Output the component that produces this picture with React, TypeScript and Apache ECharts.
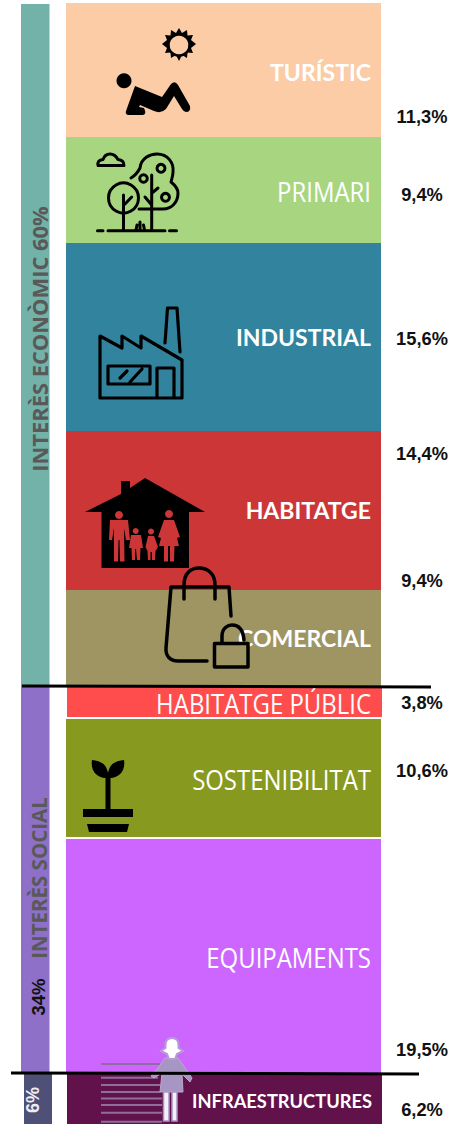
import React, { useEffect, useRef } from "react";
import * as echarts from "echarts";

const PAGE_W = 466;
const PAGE_H = 1124;

// Sectors, top to bottom
const sectorNames = ["TURÍSTIC", "PRIMARI", "INDUSTRIAL", "HABITATGE", "COMERCIAL", "HABITATGE PÚBLIC", "SOSTENIBILITAT", "EQUIPAMENTS", "INFRAESTRUCTURES"];
const sectorShares = [11.3, 9.4, 15.6, 14.4, 9.4, 3.8, 10.6, 19.5, 6.2];
// The picture does not draw the blocks strictly to scale: drawn lengths read from it
const sectorLengths = [134, 106, 188, 159, 96, 30, 118, 234, 50];
const sectorGapsBefore = [3, 0, 0, 0, 0, 1, 2, 2, 1];
const sectorColors = ["#FBCCA5", "#A8D580", "#32839E", "#CC3636", "#9E9562", "#FF4D4D", "#87991F", "#CC66FF", "#61124A"];
const sectorBold = [true, false, true, true, true, false, false, false, true];
const sectorShifted = [false, false, false, false, false, true, false, false, true];
const boldLabelNudge = [2, 0, 0, -1, 0, 0, 0, 0, 2];
const shareLabelY = [116, 194, 338, 453, 580, 702, 770, 1049, 1109];

// Interest groups, left-hand column
const groupNames = ["INTERÈS ECONÒMIC 60%", "INTERÈS SOCIAL", "6%"];
const groupLengths = [681, 387, 50];
const groupGapsBefore = [4, 0, 2];
const groupColors = ["#73B2A8", "#8E70C8", "#4F5077"];
const socialShare = "34%";

const ICONS: Record<string, string> = {
  sunRays:
    "M179,28 L182,33 L187,30 L187.5,35.5 L193,35 L191,40 L196,44 L191,48 L193,53 L187.5,52.5 L187,58 L182,55 L179,61 L176,55 L171,58 L170.5,52.5 L165,53 L167,48 L162,44 L167,40 L165,35 L170.5,35.5 L171,30 L176,33 Z",
  reclining:
    "M135,86 L162,97 L171,84 Q175,80 178,85 L190,106 Q191,112 186,112 Q184,112 182,109 L174,96 L166,109 Q161,114 154,111 L140,105 L139,107 L144,108 Q147,114 143,115 L128,115 Q125,114 126,111 Z",
  cloud: "M98,165.5 L124,165.5 Q124,160 118,159.5 Q115,154 110,154 Q105,154 103,159.5 Q97,160 98,165.5 Z",
  ground: "M97.5,230.7 L103,230.7 M108,230.7 L165,230.7 M169.5,230.7 L176.5,230.7",
  trees:
    "M123.5,195 L123.5,230 M131.7,197 L125,204 M131,178 C136,175 138,172 140,168 C141,158 150,154 157,154 C168,154 174,163 173,172 C173,176 172,178 171,182 C176,186 178,190 178,193 C178,203 171,209 163,209 L139,209 M151.7,175 L151.7,230 M158,188 L152,193 M145,197 L151.7,205 M136,230 L137,225 M140,230 L140,222 M144.5,230 L143.5,225",
  factory:
    "M100,398 L100,336 L122,348 L122,336 L141,348 L141,336 L182,360 L182,398 Z M165,343 L167.5,308 L177,308 L180,352 M108,366 L150,366 L150,384 L108,384 Z M120,378 L127,371 M130,382 L142,369 M157,398 L157,368 L174,368 L174,398",
  house:
    "M145,478 L130,488 L130,481 L121,481 L121,494 L85,512 L101.5,512 L101.5,568 L189,568 L189,512 L205,512 Z",
  family:
    "M119,511 A4,4 0 1 1 118.99,511 Z M110,520 L128,520 L130,540 L126,540 L124,528 L124.5,561.5 L120,561.5 L119.5,540 L118.5,540 L118,561.5 L114,561.5 L114,528 L112,540 L109,540 Z " +
    "M169,510 A4,4 0 1 1 168.99,510 Z M164,520 L174,520 L180,537 L177,538 L179,546 L174.5,546 L174,561.5 L170,561.5 L170,546 L168,546 L168,561.5 L164,561.5 L164,546 L159,546 L161,538 L158,537 Z " +
    "M135.7,528 A3,3 0 1 1 135.69,528 Z M131,535 L141,535 L143,548 L140.5,548 L140,560 L137,560 L136,549 L135,549 L135,560 L132,560 L131.5,548 L129,548 Z " +
    "M151,528.5 A3,3 0 1 1 150.99,528.5 Z M148,536 L154,536 L158,547 L155.5,551 L155,560 L152,560 L152,552 L150.5,552 L150.5,560 L148,560 L147.5,551 L145.5,547 Z",
  bag: "M184,599 L184,585 C184,573 191,568 199,568 C207,568 215,573 215,585 L215,599 M231,616 L229,587 L171,587 L166,648 C165.5,656 170,661 178,661 L207,661",
  lockBody: "M214.5,643.5 L248,643.5 L248,667 L214.5,667 Z",
  lockShackle: "M222,643 L222,636 C222,628 228,625 232,625 C238,625 243,629 244,640",
  plant:
    "M105.5,810 L105.5,778 C98,778 90,772 92,760 C100,761 106,763 108,773 C110,763 116,761 124,760 C126,772 118,778 110.5,778 L110.5,810 Z M83,809 L133,809 L133,817 L83,817 Z M87,824 L129,824 L127,832 L89,832 Z",
  nurseLines:
    "M101,1064 L160,1064 M101,1077.7 L158,1077.7 M101,1085 L160,1085 M101,1092 L160,1092 M101,1098.5 L162,1098.5 M101,1105 L162,1105 M101,1112.7 L162,1112.7 M101,1121.7 L162,1121.7",
  nurseBody:
    "M165,1058 L178,1058 L183,1065 L192,1078 L190,1082 L182,1074 L183,1092 L160,1092 L162,1073 L154,1078 L151,1076 L158,1068 Z",
  nurseLegs: "M163.5,1092 L169,1092 L169,1121 L163.5,1121 Z M172,1092 L177,1092 L177,1121 L172,1121 Z",
  nurseHead:
    "M172,1038 C176.5,1038 178.5,1041 178.5,1045 L178.5,1048 L183,1051 L177,1054 L175,1059 L169,1059 L167,1054 L161,1051 L165.5,1048 L165.5,1045 C165.5,1041 167.5,1038 172,1038 Z",
};

Object.keys(ICONS).forEach((name) => {
  echarts.graphic.registerShape("icon_" + name, echarts.graphic.extendPath(ICONS[name], {}));
});

const line = (name: string, lineWidth: number, extra: any = {}) => ({
  type: "icon_" + name,
  z: 100,
  style: { fill: "none", stroke: "#000", lineWidth, lineJoin: "round", lineCap: "round", ...extra },
});
const solid = (name: string, fill = "#000", extra: any = {}) => ({
  type: "icon_" + name,
  z: 100,
  style: { fill, ...extra },
});
const ring = (cx: number, cy: number, r: number, lineWidth: number, fill = "none") => ({
  type: "circle",
  z: 101,
  shape: { cx, cy, r },
  style: { fill, stroke: "#000", lineWidth },
});

function App() {
  const ref = useRef<HTMLDivElement>(null);
  useEffect(() => {
    document.body.style.margin = "0";
    const chart = echarts.init(ref.current!, null, { renderer: "svg" });

    // grids: 0 main column, 1 main column shifted 1px, 2 group column, 3 group column shifted
    const mkGrid = (left: number, width: number) => ({ left, width, top: 0, height: PAGE_H, containLabel: false });
    const grid = [mkGrid(66, 315), mkGrid(67, 315), mkGrid(21, 28.5), mkGrid(24, 28)];
    const xAxis = grid.map((_, i) => ({ type: "category" as const, gridIndex: i, data: ["a"], show: false }));
    const yAxis = grid.map((_, i) => ({ type: "value" as const, gridIndex: i, min: 0, max: PAGE_H, inverse: true, show: false }));

    const series: any[] = [];
    const spacer = (gridIndex: number, value: number, key: number) => ({
      type: "bar",
      name: "spacer" + key,
      xAxisIndex: gridIndex,
      yAxisIndex: gridIndex,
      stack: "g" + gridIndex,
      barWidth: "100%",
      silent: true,
      itemStyle: { color: "rgba(0,0,0,0)" },
      data: [value],
    });

    const regularLabels: any[] = [];
    const used = [0, 0, 0, 0];
    let cursor = 0;
    sectorNames.forEach((name, i) => {
      const g = sectorShifted[i] ? 1 : 0;
      const start = cursor + sectorGapsBefore[i];
      if (start > used[g]) series.push(spacer(g, start - used[g], i));
      series.push({
        type: "bar",
        name,
        xAxisIndex: g,
        yAxisIndex: g,
        stack: "g" + g,
        barWidth: "100%",
        itemStyle: { color: sectorColors[i] },
        label: {
          show: sectorBold[i],
          position: "insideRight",
          distance: 10,
          offset: [0, boldLabelNudge[i]],
          formatter: name,
          color: "#fff",
          fontFamily: "Lato",
          fontWeight: "bold",
          fontSize: name === "INFRAESTRUCTURES" ? 18.3 : 23,
        },
        data: [sectorLengths[i]],
      });
      if (!sectorBold[i]) {
        // the light labels are set in a condensed face: no such font is installed, so squeeze one
        regularLabels.push({
          type: "text",
          z: 120,
          x: 371,
          y: start + sectorLengths[i] / 2 + 1,
          scaleX: 0.9,
          style: {
            text: name,
            fill: "#fff",
            font: "26.6px 'Open Sans'",
            textAlign: "right",
            textVerticalAlign: "middle",
          },
        });
      }
      cursor = start + sectorLengths[i];
      used[g] = cursor;
    });

    let groupCursor = 0;
    const groupUsed: Record<number, number> = { 2: 0, 3: 0 };
    groupNames.forEach((name, i) => {
      const g = i === 2 ? 3 : 2;
      const start = groupCursor + groupGapsBefore[i];
      if (start > groupUsed[g]) series.push(spacer(g, start - groupUsed[g], 100 + i));
      series.push({
        type: "bar",
        name,
        xAxisIndex: g,
        yAxisIndex: g,
        stack: "g" + g,
        barWidth: "100%",
        itemStyle: { color: groupColors[i] },
        data: [groupLengths[i]],
      });
      groupCursor = start + groupLengths[i];
      groupUsed[g] = groupCursor;
    });

    const shareTexts = sectorShares.map((v, i) => ({
      type: "text",
      z: 120,
      x: 422,
      y: shareLabelY[i],
      style: {
        text: v.toFixed(1).replace(".", ",") + "%",
        fill: "#111",
        font: "bold 18.3px 'Liberation Sans'",
        textAlign: "center",
        textVerticalAlign: "middle",
      },
    }));

    const vertical = (text: string, x: number, y: number, font: string, fill: string) => ({
      type: "text",
      z: 120,
      x,
      y,
      rotation: Math.PI / 2,
      style: { text, font, fill, textAlign: "center", textVerticalAlign: "middle" },
    });

    chart.setOption({
      animation: false,
      tooltip: { show: false },
      legend: { show: false },
      grid,
      xAxis,
      yAxis,
      series,
      graphic: {
        elements: [
          // sun
          solid("sunRays"),
          ring(179, 45, 10.5, 2.5, sectorColors[0]),
          // reclining person
          { type: "circle", z: 100, shape: { cx: 124, cy: 80.7, r: 7.5 }, style: { fill: "#000" } },
          solid("reclining"),
          // trees
          line("cloud", 3),
          line("ground", 3),
          ring(123.5, 198, 15, 3),
          line("trees", 3),
          ring(161, 168.3, 4, 3),
          ring(143.5, 178.5, 3.8, 3),
          ring(165.5, 197.3, 4, 3),
          // factory
          line("factory", 3.2),
          // house
          solid("house"),
          { ...solid("family", sectorColors[3]), z: 101 },
          // shopping bag and padlock
          line("bag", 3.5),
          { ...line("lockBody", 3.5, { fill: sectorColors[4] }), z: 130 },
          { ...line("lockShackle", 3.5), z: 131 },
          // plant
          solid("plant"),
          // nurse
          line("nurseLines", 2, { stroke: "#8E6E9E", lineCap: "butt" }),
          { ...solid("nurseBody", "#A796C4", { stroke: "#B9AACB", lineWidth: 1 }), z: 101 },
          { ...solid("nurseLegs", "#F4EFF8", { stroke: "#A796C4", lineWidth: 1.5 }), z: 101 },
          { ...solid("nurseHead", "#FFFFFF", { stroke: "#B79ADA", lineWidth: 2 }), z: 102 },
          // vertical texts
          vertical(groupNames[0], 39, 339, "bold 21.9px 'Open Sans'", "#595959"),
          vertical(groupNames[1], 39, 878, "bold 20.5px 'Open Sans'", "#595959"),
          vertical(socialShare, 38.5, 997, "bold 18.5px 'Liberation Sans'", "#111"),
          vertical(groupNames[2], 33, 1100, "bold 18px 'Liberation Sans'", "#EDEDF2"),
          // dividers
          { type: "line", z: 140, shape: { x1: 22, y1: 686, x2: 431, y2: 687 }, style: { stroke: "#000", lineWidth: 3 } },
          { type: "line", z: 140, shape: { x1: 11, y1: 1073, x2: 419, y2: 1074 }, style: { stroke: "#000", lineWidth: 3 } },
          ...regularLabels,
          ...shareTexts,
        ],
      },
    });
    return () => chart.dispose();
  }, []);
  return <div ref={ref} style={{ width: PAGE_W, height: PAGE_H }} />;
}

export default App;
